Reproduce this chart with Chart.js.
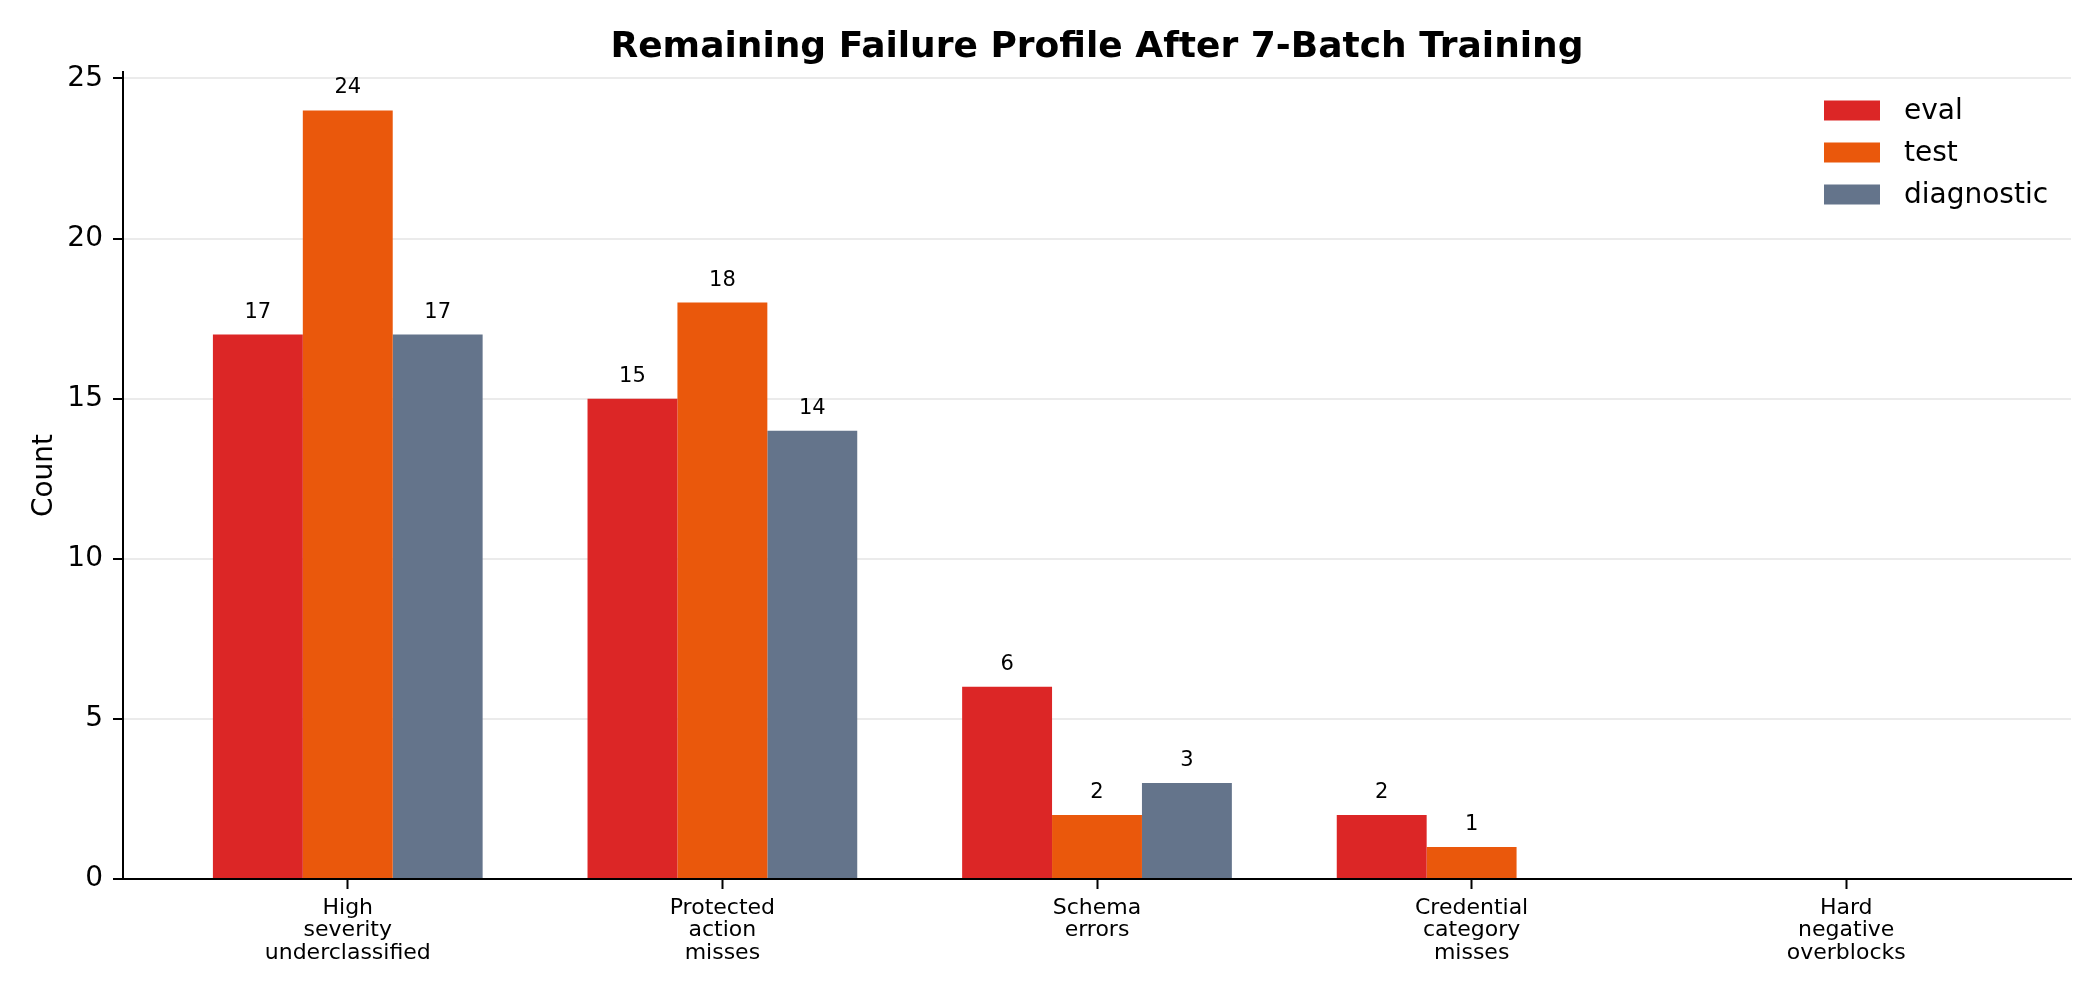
<!DOCTYPE html>
<html>
<head>
<meta charset="utf-8">
<script src="https://cdn.jsdelivr.net/npm/chart.js@4.4.1/dist/chart.umd.min.js"></script>
<style>
  html, body { margin: 0; padding: 0; background: #fff; }
  #wrap { width: 2100px; height: 1000px; }
</style>
</head>
<body>
<div id="wrap"><canvas id="chart" width="2100" height="1000"></canvas></div>
<script>
// data
const categories = [
    ['High', 'severity', 'underclassified'],
    ['Protected', 'action', 'misses'],
    ['Schema', 'errors'],
    ['Credential', 'category', 'misses'],
    ['Hard', 'negative', 'overblocks']
];
const evalCounts = [17, 15, 6, 2, 0];
const testCounts = [24, 18, 2, 1, 0];
const diagnosticCounts = [17, 14, 3, 0, 0];
const seriesNames = ['eval', 'test', 'diagnostic'];
const seriesColors = ['#dc2626', '#ea580c', '#64748b'];
const yTicks = [0, 5, 10, 15, 20, 25];
const chartTitle = 'Remaining Failure Profile After 7-Batch Training';

Chart.defaults.font.family = 'DejaVu Sans';
Chart.defaults.color = '#000';

function toPoints(arr) {
    return arr.map((v, i) => ({ x: i, y: v }));
}

const allSeries = [evalCounts, testCounts, diagnosticCounts];
const datasets = allSeries.map((s, k) => ({
    label: seriesNames[k],
    data: toPoints(s),
    backgroundColor: seriesColors[k],
    borderWidth: 0,
    categoryPercentage: 0.72,
    barPercentage: 1.0
}));

// title, value labels and legend drawn like matplotlib does them
const extrasPlugin = {
    id: 'extras',
    afterDatasetsDraw(chart) {
        const ctx = chart.ctx;
        ctx.save();
        ctx.font = '21px "DejaVu Sans"';
        ctx.fillStyle = '#000';
        ctx.textAlign = 'center';
        ctx.textBaseline = 'alphabetic';
        chart.data.datasets.forEach((ds, k) => {
            const meta = chart.getDatasetMeta(k);
            meta.data.forEach((bar, i) => {
                const v = ds.data[i].y;
                if (v > 0) {
                    ctx.fillText(String(v), bar.x, bar.y - 17);
                }
            });
        });
        ctx.restore();
    },
    afterDraw(chart) {
        const ctx = chart.ctx;
        const ca = chart.chartArea;
        ctx.save();
        // title
        ctx.font = 'bold 36px "DejaVu Sans"';
        ctx.fillStyle = '#000';
        ctx.textAlign = 'center';
        ctx.textBaseline = 'alphabetic';
        ctx.fillText(chartTitle, (ca.left + ca.right) / 2, 57);

        // legend
        ctx.font = '28px "DejaVu Sans"';
        ctx.textAlign = 'left';
        ctx.textBaseline = 'middle';
        const px = ca.right - 247;
        chart.data.datasets.forEach((ds, k) => {
            const cy = ca.top + 38.5 + k * 42;
            ctx.fillStyle = ds.backgroundColor;
            ctx.fillRect(px, cy - 10, 56, 20);
            ctx.fillStyle = '#000';
            ctx.fillText(ds.label, px + 80, cy + 1);
        });
        ctx.restore();
    }
};

const ctx = document.getElementById('chart').getContext('2d');
const chart = new Chart(ctx, {
    type: 'bar',
    data: { datasets: datasets },
    plugins: [extrasPlugin],
    options: {
        responsive: false,
        devicePixelRatio: 1,
        animation: false,
        layout: { padding: { top: 72, right: 29, left: 0, bottom: 0 } },
        plugins: {
            legend: { display: false },
            title: { display: false },
            tooltip: { enabled: false }
        },
        scales: {
            x: {
                type: 'linear',
                min: -0.6,
                max: 4.6,
                offset: false,
                afterBuildTicks: (axis) => {
                    axis.ticks = categories.map((c, i) => ({ value: i }));
                },
                afterFit: (axis) => { axis.height = 121; },
                grid: {
                    display: true,
                    offset: false,
                    drawOnChartArea: false,
                    drawTicks: true,
                    tickLength: 10,
                    tickColor: '#000',
                    tickWidth: 2
                },
                border: { display: true, color: '#000', width: 2 },
                ticks: {
                    autoSkip: false,
                    maxRotation: 0,
                    minRotation: 0,
                    padding: 8,
                    font: { size: 22, lineHeight: 1.02 },
                    color: '#000',
                    callback: (v) => categories[v]
                }
            },
            y: {
                min: 0,
                max: 25.2,
                z: 1,
                afterBuildTicks: (axis) => {
                    axis.ticks = yTicks.map(v => ({ value: v }));
                },
                afterFit: (axis) => { axis.width = 123; },
                grid: {
                    color: 'rgba(0,0,0,0.08)',
                    lineWidth: 2,
                    drawTicks: true,
                    tickLength: 10,
                    tickColor: '#000',
                    tickWidth: 2
                },
                border: { display: true, color: '#000', width: 2 },
                ticks: {
                    padding: 10,
                    font: { size: 28 },
                    color: '#000'
                },
                title: {
                    display: true,
                    text: 'Count',
                    font: { size: 28 },
                    color: '#000',
                    padding: { top: 28, bottom: 0 }
                }
            }
        }
    }
});
</script>
</body>
</html>
